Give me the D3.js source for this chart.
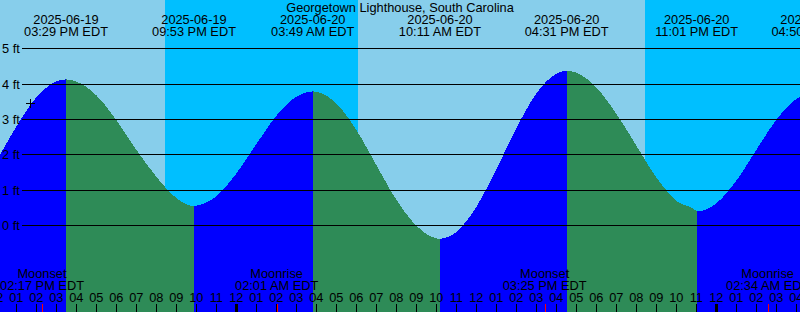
<!DOCTYPE html>
<html>
<head>
<meta charset="utf-8">
<script src="https://cdn.jsdelivr.net/npm/d3@7"></script>
<style>
  body { margin: 0; background: #fff; }
  svg { display: block; font-family: 'Liberation Sans', Arial, sans-serif; font-size: 12.8px; }
</style>
</head>
<body>
<svg width="800" height="312"></svg>
<script>
const title = 'Georgetown Lighthouse, South Carolina'
const timeDomain = ['2025-06-19 12:11', '2025-06-21 04:11']

// high / low tides, local time (EDT)
const eventTimes = ['2025-06-19 09:08', '2025-06-19 15:29', '2025-06-19 21:53', '2025-06-20 03:49',
  '2025-06-20 10:11', '2025-06-20 16:31', '2025-06-20 23:01', '2025-06-21 04:50']
const eventLevels = [0.12, 4.13, 0.55, 3.79, -0.37, 4.37, 0.40, 3.75]
const eventTypes = ['low', 'high', 'low', 'high', 'low', 'high', 'low', 'high']

// levels every hour, from 2025-06-19 10:00
const hourlyStart = '2025-06-19 10:00'
const hourlyLevels = [
  0.30, 0.92, 1.82, 2.80, 3.62, 4.07,
  4.07, 3.68, 2.98, 2.14, 1.38, 0.78,
  0.56, 0.83, 1.47, 2.30, 3.10, 3.64,
  3.78, 3.45, 2.70, 1.71, 0.73, 0.00, -0.36,
  -0.18, 0.53, 1.59, 2.75, 3.73, 4.29,
  4.32, 3.90, 3.16, 2.26, 1.36, 0.70, 0.41,
  0.63, 1.27, 2.14, 2.99, 3.58
]

const nightStarts = ['2025-06-19 20:26', '2025-06-20 20:26']
const nightEnds = ['2025-06-20 06:05', '2025-06-21 06:05']

const moonTimes = ['2025-06-19 14:17', '2025-06-20 02:01', '2025-06-20 15:25', '2025-06-21 02:34']
const moonLabels = ['Moonset', 'Moonrise', 'Moonset', 'Moonrise']

const levelTicks = [0, 1, 2, 3, 4, 5]

// current time mark
const nowTime = '2025-06-19 13:42'
const nowLevel = 3.45

const dayColor = '#87ceeb', nightColor = '#00bfff'
const risingColor = '#0000ff', fallingColor = '#2e8b57'

const parse = d3.utcParse('%Y-%m-%d %H:%M')
const fmtDate = d3.utcFormat('%Y-%m-%d')
const fmtTime = d3.utcFormat('%I:%M %p EDT')
const fmtHour = d3.utcFormat('%I')

const svg = d3.select('svg'),
  width = 800,
  height = 312

const x = d3.scaleUtc().domain(timeDomain.map(parse)).range([0, width])
const y = d3.scaleLinear().domain([0, 5]).range([225.6, 48.6])
const px = (t) => Math.round(x(t))

const events = eventTimes.map((t, i) => ({ t: parse(t), v: eventLevels[i], type: eventTypes[i] }))
const hourly = hourlyLevels.map((v, i) => ({ t: d3.utcHour.offset(parse(hourlyStart), i), v }))
const points = [...events, ...hourly].sort((a, b) => a.t - b.t)

//#region background
svg.append('rect')
  .attr('width', width)
  .attr('height', height)
  .attr('fill', dayColor)

svg.append('g')
  .selectAll('rect')
  .data(nightStarts)
  .join('rect')
  .attr('x', d => px(parse(d)))
  .attr('width', (d, i) => px(parse(nightEnds[i])) - px(parse(d)))
  .attr('height', height)
  .attr('fill', nightColor)
//#endregion

//#region tide fill
const area = d3.area()
  .x(d => x(d.t))
  .y0(height)
  .y1(d => y(d.v))
  .curve(d3.curveMonotoneX)

const defs = svg.append('defs')
d3.pairs(events).forEach(([a, b], i) => {
  defs.append('clipPath').attr('id', `seg${i}`)
    .append('rect')
    .attr('x', px(a.t))
    .attr('width', px(b.t) - px(a.t))
    .attr('height', height)
  svg.append('path')
    .attr('d', area(points))
    .attr('fill', b.type === 'high' ? risingColor : fallingColor)
    .attr('clip-path', `url(#seg${i})`)
    .attr('shape-rendering', 'crispEdges')
})
//#endregion

//#region level lines
const gy = svg.append('g')
gy.selectAll('line')
  .data(levelTicks)
  .join('line')
  .attr('x1', 22)
  .attr('x2', width)
  .attr('y1', d => Math.floor(y(d)) + 0.5)
  .attr('y2', d => Math.floor(y(d)) + 0.5)
  .attr('stroke', 'black')

gy.selectAll('text')
  .data(levelTicks)
  .join('text')
  .attr('x', 2)
  .attr('y', d => Math.floor(y(d)) + 5)
  .text(d => `${d} ft`)
//#endregion

//#region labels
svg.append('text')
  .attr('x', width / 2)
  .attr('y', 11.7)
  .attr('text-anchor', 'middle')
  .text(title)

// only tides whose label reaches the picture
const shown = events.filter(d => x(d.t) > -40)
const ev = svg.append('g').attr('text-anchor', 'middle')
ev.selectAll('.date')
  .data(shown)
  .join('text')
  .attr('class', 'date')
  .attr('x', d => x(d.t))
  .attr('y', 23.5)
  .text(d => fmtDate(d.t))
ev.selectAll('.time')
  .data(shown)
  .join('text')
  .attr('class', 'time')
  .attr('x', d => x(d.t))
  .attr('y', 36)
  .text(d => fmtTime(d.t))

const moon = moonTimes.map((t, i) => ({ t: parse(t), label: moonLabels[i] }))
const mg = svg.append('g').attr('text-anchor', 'middle')
mg.selectAll('.name')
  .data(moon)
  .join('text')
  .attr('class', 'name')
  .attr('x', d => x(d.t))
  .attr('y', 278.3)
  .text(d => d.label)
mg.selectAll('.time')
  .data(moon)
  .join('text')
  .attr('class', 'time')
  .attr('x', d => x(d.t))
  .attr('y', 290)
  .text(d => fmtTime(d.t))
//#endregion

//#region hour axis
const [t0, t1] = x.domain()
const hours = d3.utcHour.range(d3.utcHour.floor(t0), t1)

const hg = svg.append('g')
hg.selectAll('line')
  .data(hours)
  .join('line')
  .attr('x1', d => px(d) + 0.5)
  .attr('x2', d => px(d) + 0.5)
  .attr('y1', 304)
  .attr('y2', height)
  .attr('stroke', 'black')
  .attr('stroke-width', d => d.getUTCHours() === 0 ? 3 : 1)

hg.selectAll('text')
  .data(hours)
  .join('text')
  .attr('x', d => x(d))
  .attr('y', 301.7)
  .attr('text-anchor', 'middle')
  .text(d => fmtHour(d))

svg.append('g')
  .selectAll('line')
  .data(moon)
  .join('line')
  .attr('x1', d => px(d.t) + 0.5)
  .attr('x2', d => px(d.t) + 0.5)
  .attr('y1', 304)
  .attr('y2', height)
  .attr('stroke', 'red')
//#endregion

// "now" cross on the curve
const cx = px(parse(nowTime)), cy = Math.floor(y(nowLevel))
svg.append('path')
  .attr('d', `M${cx - 4},${cy + 0.5}h9M${cx + 0.5},${cy - 4}v9`)
  .attr('stroke', 'black')
  .attr('fill', 'none')
</script>
</body>
</html>
